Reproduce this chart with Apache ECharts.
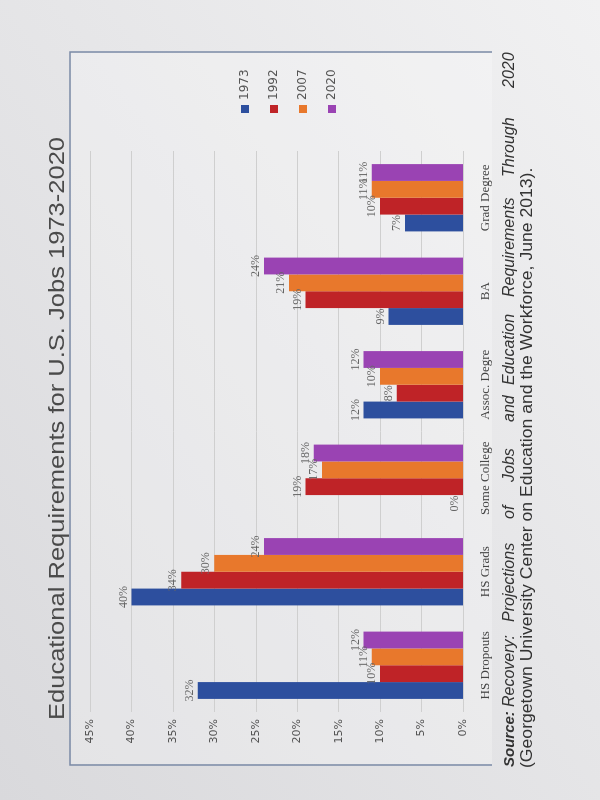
<!DOCTYPE html>
<html>
<head>
<meta charset="utf-8">
<script src="https://cdn.jsdelivr.net/npm/echarts@6/dist/echarts.min.js"></script>
<style>
    html, body { margin: 0; padding: 0; width: 600px; height: 800px; overflow: hidden;
        background: linear-gradient(to bottom left, #f1f1f2 0%, #e6e6e8 45%, #d9d9dc 100%); }
    /* the photo shows the page turned a quarter to the left */
    #main { position: absolute; left: 0; top: 0; width: 800px; height: 600px;
        transform-origin: 0 0; transform: translateY(800px) rotate(-90deg); }
</style>
</head>
<body>
<div id="main"></div>
<script>
var categories = ['HS Dropouts', 'HS Grads', 'Some College', 'Assoc. Degre', 'BA', 'Grad Degree'];
var years = ['1973', '1992', '2007', '2020'];
var y1973 = [32, 40, 0, 12, 9, 7];
var y1992 = [10, 34, 19, 8, 19, 10];
var y2007 = [11, 30, 17, 10, 21, 11];
var y2020 = [12, 24, 18, 12, 24, 11];
var colors = ['#2d4f9e', '#bf2327', '#e8782c', '#9a43b3'];

var myChart = echarts.init(document.getElementById('main'));

var series = [y1973, y1992, y2007, y2020].map(function(vals, i) {
    return {
        name: years[i],
        type: 'bar',
        data: vals,
        barGap: 0,
        barCategoryGap: '28%',
        itemStyle: { color: colors[i] },
        label: {
            show: true,
            position: 'top',
            distance: 2,
            formatter: '{c}%',
            fontFamily: 'Liberation Serif',
            fontSize: 12,
            color: '#666'
        }
    };
});

// source line, spread out like the justified print
var srcWords = [
    ['Source:', 33, 'bold'], ['Recovery:', 93], ['Projections', 178], ['of', 281], ['Jobs', 318],
    ['and', 378], ['Education', 415], ['Requirements', 503], ['Through', 623], ['2020', 712]
];
var graphics = [{
    type: 'rect',
    shape: { x: 36, y: 71, width: 711, height: 421 },
    style: { fill: 'rgba(255,255,255,0.25)' },
    z: -1
}, {
    type: 'polyline',
    shape: { points: [[35, 492], [35, 70], [748, 70], [748, 492]] },
    style: { stroke: '#7b8ba6', lineWidth: 1.5, fill: null },
    z: 0
}, {
    type: 'text',
    x: 80,
    y: 58,
    scaleX: 1.16,
    style: { text: 'Educational Requirements for U.S. Jobs 1973-2020', fontFamily: 'Liberation Sans',
        fontSize: 22, fill: '#4a4a4a', verticalAlign: 'middle' }
}, {
    type: 'text',
    x: 32,
    y: 528,
    scaleX: 1.1,
    style: { text: '(Georgetown University Center on Education and the Workforce, June 2013).',
        fontFamily: 'Liberation Sans', fontSize: 16, fill: '#333', verticalAlign: 'middle' }
}];
srcWords.forEach(function(w) {
    graphics.push({
        type: 'text',
        x: w[1],
        y: 510,
        style: { text: w[0], fontFamily: 'Liberation Sans', fontSize: w[2] ? 15 : 16, fontStyle: 'italic',
            fontWeight: w[2] || 'normal', fill: '#333', verticalAlign: 'middle' }
    });
});

var option = {
    backgroundColor: 'transparent',
    animation: false,
    color: colors,
    grid: { left: 88, right: 151, top: 90, bottom: 137 },
    legend: {
        orient: 'vertical',
        left: 682,
        top: 234,
        icon: 'rect',
        itemWidth: 8,
        itemHeight: 8,
        itemGap: 17,
        data: years,
        textStyle: { fontFamily: 'DejaVu Sans', fontSize: 12, color: '#555' }
    },
    xAxis: {
        type: 'category',
        data: categories,
        axisLine: { show: false },
        axisTick: { show: false },
        axisLabel: { interval: 0, margin: 16, fontFamily: 'Liberation Serif', fontSize: 13, color: '#444' }
    },
    yAxis: {
        type: 'value',
        min: 0,
        max: 45,
        interval: 5,
        axisLabel: { formatter: '{value}%', margin: 7, fontFamily: 'DejaVu Sans', fontSize: 11, color: '#555' },
        splitLine: { lineStyle: { color: '#cfcfcf', width: 1 } }
    },
    graphic: graphics,
    series: series
};
myChart.setOption(option);
</script>
</body>
</html>
